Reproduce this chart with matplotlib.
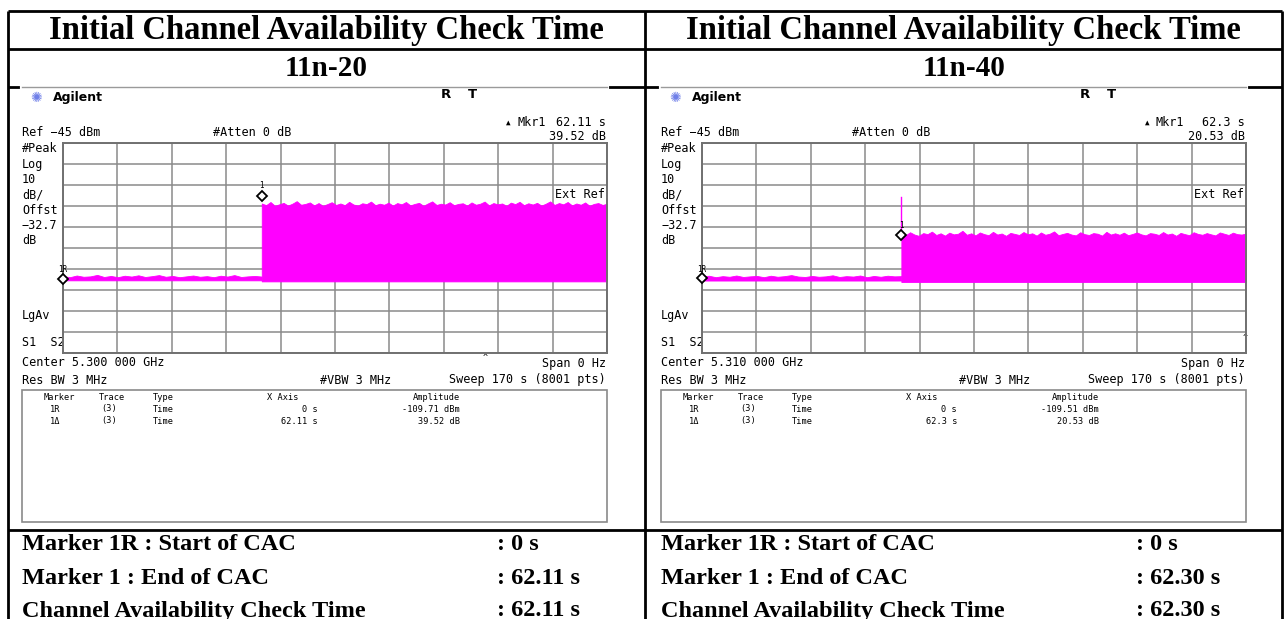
import numpy as np
import matplotlib
matplotlib.use("Agg")
import matplotlib.pyplot as plt
from matplotlib.patches import Rectangle

W, H = 1285, 619

# table text
title = "Initial Channel Availability Check Time"
modes = ["11n-20", "11n-40"]
result_labels = ["Marker 1R : Start of CAC", "Marker 1 : End of CAC", "Channel Availability Check Time"]
result_values = [[": 0 s", ": 62.11 s", ": 62.11 s"],
                 [": 0 s", ": 62.30 s", ": 62.30 s"]]

# analyzer settings shown on both screens
ref_level = -45.0
db_div = 10.0
sweep = 170.0
center_freq = ["5.300 000 GHz", "5.310 000 GHz"]
mkr1r_dbm = [-109.71, -109.51]
mkr1_time = [62.11, 62.3]
mkr1_delta = [39.52, 20.53]
mkr1_time_txt = ["62.11 s", "62.3 s"]

# trace envelope (dBm)
floor_bottom = [-110.4, -110.5]
floor_top = [
    [-108.4, -108.9, -108.1, -108.7, -108.5, -107.8, -108.8, -108.3, -108.9, -108.2,
     -108.6, -108.0, -108.8, -108.4, -107.9, -108.7, -108.3, -108.9, -108.5, -108.1,
     -108.7, -108.4, -108.9, -108.2, -108.6, -107.9, -108.8, -108.5, -108.3, -108.6],
    [-108.6, -108.2, -108.9, -108.4, -108.7, -108.1, -108.8, -108.5, -108.3, -108.9,
     -108.2, -108.7, -108.4, -107.9, -108.6, -108.8, -108.3, -108.7, -108.5, -108.0,
     -108.8, -108.4, -108.6, -108.1, -108.9, -108.3, -108.7, -108.2, -108.5, -108.4],
]
burst_bottom = [-110.9, -111.2]
burst_top = [
    [-73.8, -74.6, -73.1, -74.9, -74.2, -73.5, -74.8, -73.9, -72.7, -74.4,
     -74.0, -73.3, -74.7, -73.6, -74.9, -74.1, -73.2, -74.5, -73.8, -74.6,
     -73.0, -74.3, -74.8, -73.7, -74.1, -72.9, -74.6, -73.9, -74.4, -73.4,
     -74.8, -73.6, -74.2, -73.1, -74.7, -74.0, -73.5, -74.9, -73.8, -72.8,
     -74.5, -73.9, -74.3, -73.2, -74.6, -74.0, -73.7, -74.8, -73.3, -74.4,
     -73.9, -72.9, -74.7, -73.6, -74.2, -73.8, -74.9, -73.4, -74.1, -73.0,
     -74.6, -73.7, -74.3, -73.5, -74.8, -73.9, -72.8, -74.5, -73.6, -74.2,
     -73.1, -74.7, -73.8, -74.4, -73.3, -74.9, -74.0, -73.6, -74.5, -73.9],
    [-88.1, -88.9, -87.5, -88.6, -89.2, -87.9, -88.4, -87.2, -88.8, -88.0,
     -89.1, -87.7, -88.5, -88.2, -86.8, -88.7, -88.0, -89.0, -87.6, -88.4,
     -88.9, -87.3, -88.6, -88.1, -89.2, -87.8, -88.3, -88.8, -87.4, -88.5,
     -88.0, -89.1, -87.6, -88.7, -88.2, -87.1, -88.9, -88.3, -87.8, -88.6,
     -89.0, -87.5, -88.4, -88.8, -87.9, -88.2, -89.1, -87.3, -88.6, -88.0,
     -88.7, -87.7, -88.9, -88.3, -87.6, -88.5, -89.0, -87.9, -88.2, -88.8,
     -87.4, -88.6, -88.1, -89.2, -87.8, -88.4, -88.9, -87.5, -88.3, -88.7,
     -87.9, -88.5, -89.0, -87.6, -88.2, -88.8, -87.7, -88.4, -88.6, -88.1],
]
spike_top = [None, -70.6]

MAG = "#ff00ff"
GRID = "#8a8a8a"
MONO = "DejaVu Sans Mono"
SERIF = "Liberation Serif"

fig = plt.figure(figsize=(W / 100, H / 100), dpi=100)
bg = fig.add_axes([0, 0, 1, 1], zorder=0)
bg.set_xlim(0, W)
bg.set_ylim(H, 0)
bg.axis("off")


def txt(x, y, s, size=8.5, ha="left", family=MONO, **kw):
    bg.text(x, y, s, ha=ha, va="center", fontsize=size, family=family, **kw)


# table frame
for y in [11, 49, 87, 530]:
    bg.plot([8, 1282], [y, y], color="black", lw=2, solid_capstyle="butt")
for x in [8, 645, 1282]:
    bg.plot([x, x], [11, H], color="black", lw=2, solid_capstyle="butt")

for i, dx in enumerate([0, 639]):
    cx = 326 + dx * 0.998
    txt(cx, 30, title, size=23.5, ha="center", family=SERIF, weight="bold")
    txt(cx, 68, modes[i], size=21, ha="center", family=SERIF, weight="bold")
    for k, lab in enumerate(result_labels):
        txt(22 + dx, 545 + 33 * k, lab, size=17.5, family=SERIF, weight="bold")
        txt(497 + dx, 545 + 33 * k, result_values[i][k], size=17.5, family=SERIF, weight="bold")

    # screen edge over the table line
    bg.plot([22 + dx, 607 + dx], [87, 87], color="white", lw=3, zorder=3)
    bg.plot([22 + dx, 607 + dx], [87, 87], color="#9a9a9a", lw=1, zorder=4)

    # screen annotations
    txt(36 + dx, 98, "\u273a", size=10, ha="center", family="DejaVu Sans", color="#6f7fe8")
    txt(53 + dx, 98, "Agilent", size=9, family="DejaVu Sans", weight="bold")
    txt(441 + dx, 95, "R", size=9.5, family="DejaVu Sans", weight="bold")
    txt(468 + dx, 95, "T", size=9.5, family="DejaVu Sans", weight="bold")
    txt(506 + dx, 122, "\u25b2", size=5.5)
    txt(517 + dx, 122, "Mkr1")
    txt(606 + dx, 122, mkr1_time_txt[i], ha="right")
    txt(606 + dx, 136, f"{mkr1_delta[i]:.2f} dB", ha="right")
    txt(22 + dx, 133, f"Ref {ref_level:.0f} dBm".replace("-", "\u2212"))
    txt(213 + dx, 133, "#Atten 0 dB")
    for k, lab in enumerate(["#Peak", "Log", "10", "dB/", "Offst", "\u221232.7", "dB"]):
        txt(22 + dx, 149 + 15.3 * k, lab)
    txt(22 + dx, 315, "LgAv")
    txt(22 + dx, 342, "S1  S2")
    txt(605 + dx, 195, "Ext Ref", ha="right")
    txt(22 + dx, 363, "Center " + center_freq[i])
    txt(606 + dx, 363, "Span 0 Hz", ha="right")
    txt(22 + dx, 380, "Res BW 3 MHz")
    txt(320 + dx, 380, "#VBW 3 MHz")
    txt(606 + dx, 380, f"Sweep {sweep:.0f} s (8001 pts)", ha="right")
    if i == 0:
        txt(483, 357, "^", size=6)
    else:
        txt(1243, 337, "^", size=6)

    # marker table
    bg.add_patch(Rectangle((22 + dx, 390), 585, 132, fill=False, ec="#8a8a8a", lw=1.2))
    ts = 6.2
    txt(59 + dx, 397, "Marker", size=ts, ha="center")
    txt(112 + dx, 397, "Trace", size=ts, ha="center")
    txt(153 + dx, 397, "Type", size=ts)
    txt(267 + dx, 397, "X Axis", size=ts)
    txt(460 + dx, 397, "Amplitude", size=ts, ha="right")
    rows = [("1R", "0 s", f"{mkr1r_dbm[i]:.2f} dBm"),
            ("1\u0394", mkr1_time_txt[i], f"{mkr1_delta[i]:.2f} dB")]
    for k, (m, xv, amp) in enumerate(rows):
        y = 409 + 12 * k
        txt(55 + dx, y, m, size=ts, ha="center")
        txt(109 + dx, y, "(3)", size=ts, ha="center")
        txt(153 + dx, y, "Time", size=ts)
        txt(318 + dx, y, xv, size=ts, ha="right")
        txt(460 + dx, y, amp, size=ts, ha="right")

    # graticule + trace
    gx, gy, gw, gh = 63 + dx, 143, 544, 210
    ax = fig.add_axes([gx / W, 1 - (gy + gh) / H, gw / W, gh / H], zorder=2)
    ax.set_facecolor("none")
    ax.set_xlim(0, sweep)
    ax.set_ylim(ref_level - 10 * db_div, ref_level)
    ax.set_xticks(np.arange(0, sweep + 1, sweep / 10))
    ax.set_yticks(np.arange(ref_level - 10 * db_div, ref_level + 1, db_div))
    ax.tick_params(length=0, labelbottom=False, labelleft=False)
    ax.grid(True, color=GRID, lw=1.1)
    ax.set_axisbelow(True)
    for s in ax.spines.values():
        s.set_color("#707070")
        s.set_linewidth(1.4)

    t_floor = np.linspace(0, mkr1_time[i], len(floor_top[i]))
    ax.fill_between(t_floor, floor_bottom[i], floor_top[i], color=MAG, lw=0.6, ec=MAG)
    t_burst = np.linspace(mkr1_time[i], sweep, len(burst_top[i]))
    ax.fill_between(t_burst, burst_bottom[i], burst_top[i], color=MAG, lw=0.6, ec=MAG)
    if spike_top[i] is not None:
        ax.plot([mkr1_time[i], mkr1_time[i]], [burst_top[i][0], spike_top[i]], color=MAG, lw=1)

    m1_level = mkr1r_dbm[i] + mkr1_delta[i]
    ax.plot([0, mkr1_time[i]], [mkr1r_dbm[i], m1_level], ls="none", marker="D", ms=5,
            mfc="white", mec="black", mew=1.3, clip_on=False, zorder=5)
    ax.annotate("1R", (0, mkr1r_dbm[i]), xytext=(0, 9), textcoords="offset pixels",
                ha="center", va="center", fontsize=5.5, family=MONO, annotation_clip=False)
    ax.annotate("1", (mkr1_time[i], m1_level), xytext=(0, 10), textcoords="offset pixels",
                ha="center", va="center", fontsize=5.5, family=MONO)

fig.savefig("out.png", dpi=100)
